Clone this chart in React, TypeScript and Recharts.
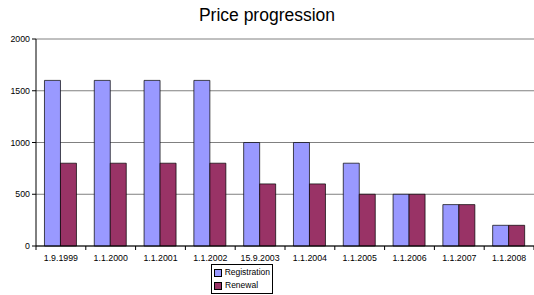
import { BarChart, Bar, XAxis, YAxis, CartesianGrid } from "recharts";

const dates = [
  "1.9.1999",
  "1.1.2000",
  "1.1.2001",
  "1.1.2002",
  "15.9.2003",
  "1.1.2004",
  "1.1.2005",
  "1.1.2006",
  "1.1.2007",
  "1.1.2008",
];
const registration = [1600, 1600, 1600, 1600, 1000, 1000, 800, 500, 400, 200];
const renewal = [800, 800, 800, 800, 600, 600, 500, 500, 400, 200];
const yTicks = [0, 500, 1000, 1500, 2000];

const data = dates.map((name, i) => ({
  name,
  registration: registration[i],
  renewal: renewal[i],
}));

const FONT = "'Liberation Sans', Arial, sans-serif";

const DateTick = ({ x, y, payload, index }: any) => {
  const off = payload.offset || 24.9;
  return (
    <g>
      <line x1={x - off} y1={y} x2={x - off} y2={y + 4} stroke="#000" />
      {index === dates.length - 1 && <line x1={x + off} y1={y} x2={x + off} y2={y + 4} stroke="#000" />}
      <text x={x} y={y + 15} textAnchor="middle" fontSize={8.8} fill="#000" fontFamily={FONT}>
        {payload.value}
      </text>
    </g>
  );
};

const LegendBox = () => {
  const items = [
    { label: "Registration", color: "#9999FF" },
    { label: "Renewal", color: "#993366" },
  ];
  return (
    <div
      style={{
        position: "absolute",
        left: 211,
        top: 264,
        width: 56,
        border: "1px solid #000",
        background: "#fff",
        padding: "1px 2px",
        fontFamily: FONT,
        fontSize: 8.5,
        lineHeight: "13px",
      }}
    >
      {items.map((it) => (
        <div key={it.label} style={{ display: "flex", alignItems: "center" }}>
          <span
            style={{
              display: "inline-block",
              width: 6,
              height: 6,
              background: it.color,
              border: "1px solid #000",
              marginRight: 3,
            }}
          />
          {it.label}
        </div>
      ))}
    </div>
  );
};

export default function App() {
  return (
    <div style={{ position: "relative", width: 534, height: 295, background: "#fff" }}>
      <style>{`body{margin:0}`}</style>
      <div
        style={{
          position: "absolute",
          top: 5,
          left: 0,
          width: 534,
          textAlign: "center",
          fontFamily: FONT,
          fontSize: 17.5,
          color: "#000",
        }}
      >
        Price progression
      </div>
      <BarChart
        width={534}
        height={295}
        data={data}
        margin={{ top: 39, right: 0, left: 0, bottom: 0 }}
        barCategoryGap="17%"
        barGap={0}
      >
        <CartesianGrid vertical={false} stroke="#808080" strokeWidth={1} />
        <XAxis
          dataKey="name"
          interval={0}
          height={49}
          tickLine={false}
          tickSize={0}
          tickMargin={0}
          axisLine={{ stroke: "#000" }}
          tick={<DateTick />}
        />
        <YAxis
          width={36}
          domain={[0, 2000]}
          ticks={yTicks}
          tickSize={4}
          tickMargin={2}
          axisLine={{ stroke: "#000" }}
          tickLine={{ stroke: "#000" }}
          tick={{ fontSize: 8.8, fill: "#000", fontFamily: FONT }}
        />
        <Bar dataKey="registration" name="Registration" fill="#9999FF" stroke="#000" strokeWidth={0.7} isAnimationActive={false} />
        <Bar dataKey="renewal" name="Renewal" fill="#993366" stroke="#000" strokeWidth={0.7} isAnimationActive={false} />
      </BarChart>
      <LegendBox />
    </div>
  );
}
